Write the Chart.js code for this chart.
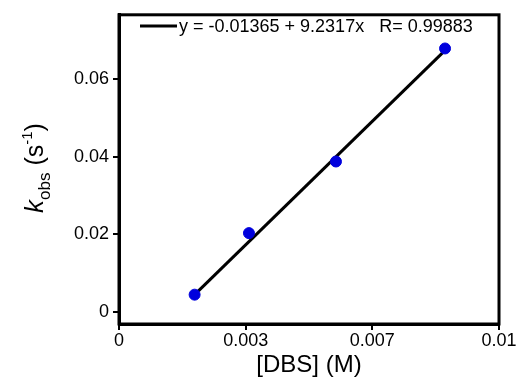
<!DOCTYPE html>
<html>
<head>
<meta charset="utf-8">
<script src="https://cdn.jsdelivr.net/npm/chart.js@4.4.1/dist/chart.umd.min.js"></script>
<style>
  html, body { margin: 0; padding: 0; background: #fff; }
  #wrap { width: 517px; height: 381px; }
</style>
</head>
<body>
<div id="wrap"><canvas id="myChart" width="517" height="381"></canvas></div>
<script>
// measured points
const dbs = [0.00199, 0.00342, 0.00571, 0.00858];
const kobs = [0.0044, 0.0203, 0.0388, 0.0680];
// linear fit line, read at its two ends
const fitX = [0.00199, 0.00858];
const fitY = [0.0044, 0.0675];
const fitLabel = 'y = -0.01365 + 9.2317x   R= 0.99883';
const xTicks = [0, 0.01 / 3, 0.02 / 3, 0.01];
const xTickLabels = ['0', '0.003', '0.007', '0.01'];
const yTicks = [0, 0.02, 0.04, 0.06];
const yTickLabels = ['0', '0.02', '0.04', '0.06'];

const font = "'Liberation Sans', Arial, sans-serif";

const framePlugin = {
    id: 'frame',
    afterDraw(chart) {
        const c = chart.ctx;
        const a = chart.chartArea;
        c.save();
        c.strokeStyle = '#000';
        c.lineWidth = 3;
        c.strokeRect(a.left, a.top, a.right - a.left, a.bottom - a.top);

        // legend inside the frame
        c.lineWidth = 3;
        c.beginPath();
        c.moveTo(140, 26);
        c.lineTo(177, 26);
        c.stroke();
        c.fillStyle = '#000';
        c.font = '18px ' + font;
        c.textBaseline = 'middle';
        c.textAlign = 'left';
        c.fillText(fitLabel, 179, 27);

        // y axis title, rotated
        c.translate(35, 168);
        c.rotate(-Math.PI / 2);
        const parts = [
            { t: 'k', f: 'italic 26px ' + font, dy: 0 },
            { t: 'obs', f: '17px ' + font, dy: 7 },
            { t: ' (s', f: '25px ' + font, dy: 0 },
            { t: '-1', f: '15px ' + font, dy: -11 },
            { t: ')', f: '25px ' + font, dy: 0 }
        ];
        let w = 0;
        parts.forEach(p => { c.font = p.f; w += c.measureText(p.t).width; });
        let x = -w / 2;
        c.textBaseline = 'alphabetic';
        parts.forEach(p => {
            c.font = p.f;
            c.fillText(p.t, x, 8 + p.dy);
            x += c.measureText(p.t).width;
        });
        c.restore();
    }
};

const ctx = document.getElementById('myChart').getContext('2d');
const myChart = new Chart(ctx, {
    type: 'scatter',
    data: {
        datasets: [{
            label: 'data',
            data: dbs.map((v, i) => ({ x: v, y: kobs[i] })),
            backgroundColor: '#0000dd',
            borderColor: '#0000dd',
            pointRadius: 5.5,
            order: 0
        },
        {
            label: fitLabel,
            data: fitX.map((v, i) => ({ x: v, y: fitY[i] })),
            showLine: true,
            borderColor: '#000',
            borderWidth: 3,
            pointRadius: 0,
            order: 1
        }]
    },
    options: {
        responsive: false,
        animation: false,
        layout: { padding: { top: 12, right: 18 } },
        plugins: {
            legend: { display: false },
            tooltip: { enabled: false }
        },
        scales: {
            x: {
                type: 'linear',
                min: 0,
                max: 0.01,
                afterBuildTicks: s => { s.ticks = xTicks.map(v => ({ value: v })); },
                afterFit: s => { s.height = 57; },
                ticks: {
                    color: '#000',
                    font: { family: font, size: 18 },
                    padding: 0,
                    maxRotation: 0,
                    callback: (v, i) => xTickLabels[i]
                },
                grid: { drawOnChartArea: false, color: '#000', lineWidth: 2, tickLength: 6 },
                border: { color: '#000', width: 3 },
                title: {
                    display: true,
                    text: '[DBS] (M)',
                    color: '#000',
                    font: { family: font, size: 24 },
                    padding: { top: 0, bottom: 1 }
                }
            },
            y: {
                min: -0.00318,
                max: 0.0767,
                afterBuildTicks: s => { s.ticks = yTicks.map(v => ({ value: v })); },
                afterFit: s => { s.width = 119; },
                ticks: {
                    color: '#000',
                    font: { family: font, size: 18 },
                    padding: 4,
                    callback: (v, i) => yTickLabels[i]
                },
                grid: { drawOnChartArea: false, color: '#000', lineWidth: 2, tickLength: 6 },
                border: { color: '#000', width: 3 }
            }
        }
    },
    plugins: [framePlugin]
});
</script>
</body>
</html>
